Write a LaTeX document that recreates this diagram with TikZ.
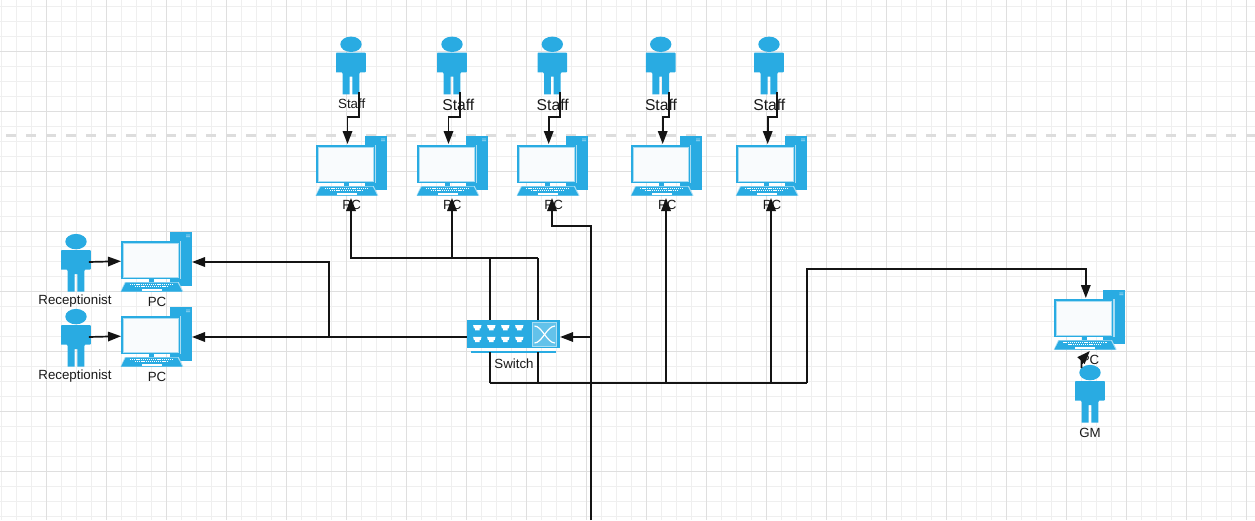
\documentclass[tikz,border=0pt]{standalone}
\usepackage{fontspec}
\setmainfont{Liberation Sans}
\usetikzlibrary{arrows.meta,calc}
\definecolor{iconblue}{HTML}{29ABE2}
\definecolor{iconlight}{HTML}{A9DDF3}
\definecolor{screenfill}{HTML}{F9FBFD}
\definecolor{gridminor}{HTML}{EFEFEF}
\definecolor{gridmajor}{HTML}{DFDFDF}
\definecolor{pagedash}{HTML}{DDDDDD}
\definecolor{inktext}{HTML}{1A1A1A}
\tikzset{
  x=1pt,y=-1pt,
  pcbox/.style={inner sep=0pt,outer sep=0pt,minimum width=71pt,minimum height=60pt},
  personbox/.style={inner sep=0pt,outer sep=0pt,minimum width=29.6pt,minimum height=57.6pt},
  switchbox/.style={inner sep=0pt,outer sep=0pt,minimum width=93.4pt,minimum height=28.4pt},
  lbl/.style={inner sep=0pt,outer sep=0pt,text=inktext,font=\fontsize{13.3}{15}\selectfont},
  lblbig/.style={inner sep=0pt,outer sep=0pt,text=inktext,font=\fontsize{15.7}{17}\selectfont},
  conn/.style={draw=black!92,line width=1.7pt,line join=miter},
  arr/.style={conn,-{Triangle[length=13pt,width=9.5pt]}},
  minorgrid/.style={gridminor,line width=1pt},
  majorgrid/.style={gridmajor,line width=1pt},
  fold/.style={pagedash,line width=3.5pt,dash pattern=on 10pt off 10pt},
}
% desktop computer: #1 name, #2 left, #3 top
\newcommand{\pcicon}[3]{%
  \begin{scope}[shift={(#2,#3)}]
    \fill[iconblue] (48.5,0) rectangle (71,54);
    \fill[iconlight] (65,2.6) rectangle (69,3.3) (65,4.4) rectangle (69,5.1);
    \fill[iconlight] (-0.2,8.5) rectangle (60.2,47);
    \fill[iconblue] (0,8.7) rectangle (58.6,46.6);
    \fill[screenfill] (2.4,11) rectangle (57,45);
    \draw[iconlight,line width=.5pt] (2.4,11) rectangle (57,45);
    \fill[iconblue] (27.5,46.6) rectangle (32.5,50);
    \fill[iconlight] (3.8,50.2) -- (57.8,50.2) -- (62.4,59.7) -- (-.6,59.7) -- cycle;
    \fill[iconblue] (4.7,50.7) -- (56.7,50.7) -- (61.3,59.7) -- (0,59.7) -- cycle;
    \draw[white,line width=1pt,dash pattern=on 1.2pt off .9pt] (9,52) -- (53,52);
    \draw[white,line width=1pt,dash pattern=on 1.2pt off .9pt] (14,54.8) -- (47,54.8);
    \fill[white] (20.7,57.4) rectangle (40.7,59);
    \node[pcbox] (#1) at (35.5,30) {};
    \coordinate (#1-top) at (31.5,8);
  \end{scope}}
% person: #1 name, #2 centre x, #3 top
\newcommand{\personicon}[3]{%
  \begin{scope}[shift={(#2,#3)}]
    \fill[iconblue] (0,7.6) ellipse [x radius=10.7,y radius=7.7];
    \fill[iconblue] (-14,16) -- (14,16) [rounded corners=.8pt] -- (14.8,16) -- (14.8,35.6)
      [sharp corners] -- (9.3,35.6) -- (8.3,37) -- (8.3,57.6) -- (1.4,57.6) -- (1.4,40)
      -- (-1.4,40) -- (-1.4,57.6) -- (-8.3,57.6) -- (-8.3,37) -- (-9.3,35.6) -- (-14.8,35.6)
      [rounded corners=.8pt] -- (-14.8,16) -- cycle;
    \node[personbox] (#1) at (0,28.8) {};
  \end{scope}}
% one port glyph of the switch
\newcommand{\portglyph}[2]{%
  \fill[white] (#1-4.2,#2-2.6) -- (#1+4.2,#2-2.6) -- (#1+3.4,#2+.6) -- (#1+2.2,#2+.6)
    -- (#1+2.2,#2+2.6) -- (#1-2.2,#2+2.6) -- (#1-2.2,#2+.6) -- (#1-3.4,#2+.6) -- cycle;}
\begin{document}
\begin{tikzpicture}
\useasboundingbox (0,0) rectangle (1255,520);
\fill[white] (0,0) rectangle (1255,520);
% grid
\foreach \k in {0,...,83} \draw[minorgrid] (1.5+15*\k,0) -- (1.5+15*\k,520);
\foreach \k in {0,...,34} \draw[minorgrid] (0,6+15*\k) -- (1255,6+15*\k);
\foreach \k in {0,...,20} \draw[majorgrid] (46.5+60*\k,0) -- (46.5+60*\k,520);
\foreach \k in {0,...,7} \draw[majorgrid] (0,51.5+60*\k) -- (1255,51.5+60*\k);
\draw[fold] (6,135.5) -- (1255,135.5);
% staff
\personicon{s1}{351}{36.7}
\personicon{s2}{452}{36.7}
\personicon{s3}{552.3}{36.7}
\personicon{s4}{660.7}{36.7}
\personicon{s5}{769}{36.7}
\pcicon{p1}{316}{136}
\pcicon{p2}{417}{136}
\pcicon{p3}{517.2}{136}
\pcicon{p4}{631.2}{136}
\pcicon{p5}{736.2}{136}
\node[lbl] (ls1) at (351.7,104) {Staff};
\node[lblbig] (ls2) at (458.3,104.5) {Staff};
\node[lblbig] (ls3) at (552.7,104.5) {Staff};
\node[lblbig] (ls4) at (661,104.5) {Staff};
\node[lblbig] (ls5) at (769.3,104.5) {Staff};
\node[lbl] (lp1) at (351.7,204.5) {PC};
\node[lbl] (lp2) at (452.3,204.5) {PC};
\node[lbl] (lp3) at (553.7,204.5) {PC};
\node[lbl] (lp4) at (667.3,204.5) {PC};
\node[lbl] (lp5) at (772,204.5) {PC};
% reception
\personicon{r1}{76}{234}
\personicon{r2}{76}{309}
\pcicon{q1}{121}{232}
\pcicon{q2}{121}{307}
\node[lbl] (lr1) at (75,301.5) {Receptionist};
\node[lbl] (lr2) at (75,376.5) {Receptionist};
\node[lbl] (lq1) at (157,301.5) {PC};
\node[lbl] (lq2) at (157,376.5) {PC};
% GM
\pcicon{g1}{1054.3}{290}
\personicon{gm}{1090}{365}
\node[lbl] (lg1) at (1090,359.5) {PC};
\node[lbl] (lgm) at (1090,432.5) {GM};
% switch
\node[switchbox,fill=iconblue] (sw) at (513.4,334.2) {};
\fill[iconblue] (471.3,351.2) rectangle (556,353);
\foreach \px in {477.3,491.3,505.3,519.3}{
  \portglyph{\px}{327.7}
  \portglyph{\px}{339.4}
}
\fill[iconlight!45!iconblue] (532.7,322.7) rectangle (556.7,346);
\draw[iconlight,line width=.8pt] (532.7,322.7) rectangle (556.7,346);
\draw[white,line width=1.2pt] (534.5,326) .. controls (542,326) and (547,343) .. (555,343);
\draw[white,line width=1.2pt] (534.5,343) .. controls (542,343) and (547,326) .. (555,326);
\node[lbl] (lsw) at (514,363.5) {Switch};
% routing points
\coordinate (ja) at (351,258);
\coordinate (jb) at (490,258);
\coordinate (jc) at (538,258);
\coordinate (jd) at (490,383);
\coordinate (je) at (538,383);
\coordinate (jf) at (807,383);
\coordinate (jg) at (807,269);
\coordinate (jh) at (591,226);
\coordinate (ji) at (591,337);
\coordinate (jj) at (591,520);
\coordinate (jk) at (329,262);
\coordinate (jl) at (329,337);
\coordinate (bar) at (0,352);
\coordinate (t1) at ([xshift=-.5pt,yshift=-2pt]p1.south);
\coordinate (t2) at ([xshift=-.5pt,yshift=-2pt]p2.south);
\coordinate (t3) at ([xshift=-.7pt,yshift=-2pt]p3.south);
\coordinate (t4) at ([xshift=-.7pt,yshift=-2pt]p4.south);
\coordinate (t5) at ([xshift=-.7pt,yshift=-2pt]p5.south);
% person to computer
\foreach \n in {1,...,5}{
  \draw[arr] ([xshift=8pt,yshift=2.3pt]s\n.south) -- ++(0,24.7) -| (p\n-top);
}
\draw[arr] ([xshift=-2pt,yshift=.8pt]r1.east) -- ([yshift=.8pt]q1.west);
\draw[arr] ([xshift=-2pt,yshift=.8pt]r2.east) -- ([yshift=.8pt]q2.west);
\draw[arr] ([xshift=-8.5pt,yshift=-3pt]gm.north) -- ++(0,-8) -- ([yshift=-1pt]g1.south);
% computers and the switch
\draw[arr] (jc) -- (ja) -- (t1);
\draw[arr] (t2 |- ja) -- (t2);
\draw[conn] (jb) -- (jb |- sw.north);
\draw[conn] (jc) -- (jc |- sw.north);
\draw[conn] (jd) -- (jd |- bar);
\draw[conn] (je) -- (je |- bar);
\draw[conn] (jd) -- (jf);
\draw[arr] (jf) -- (jg) -| (g1-top);
\draw[arr] (t4 |- jd) -- (t4);
\draw[arr] (t5 |- jd) -- (t5);
\draw[arr] (jj) -- (jh) -| (t3);
\draw[arr] (ji) -- (ji -| sw.east);
\draw[arr] (sw.west |- jl) -- (jl -| q2.east);
\draw[arr] (jl) -- (jk) -- (jk -| q1.east);
\end{tikzpicture}
\end{document}
